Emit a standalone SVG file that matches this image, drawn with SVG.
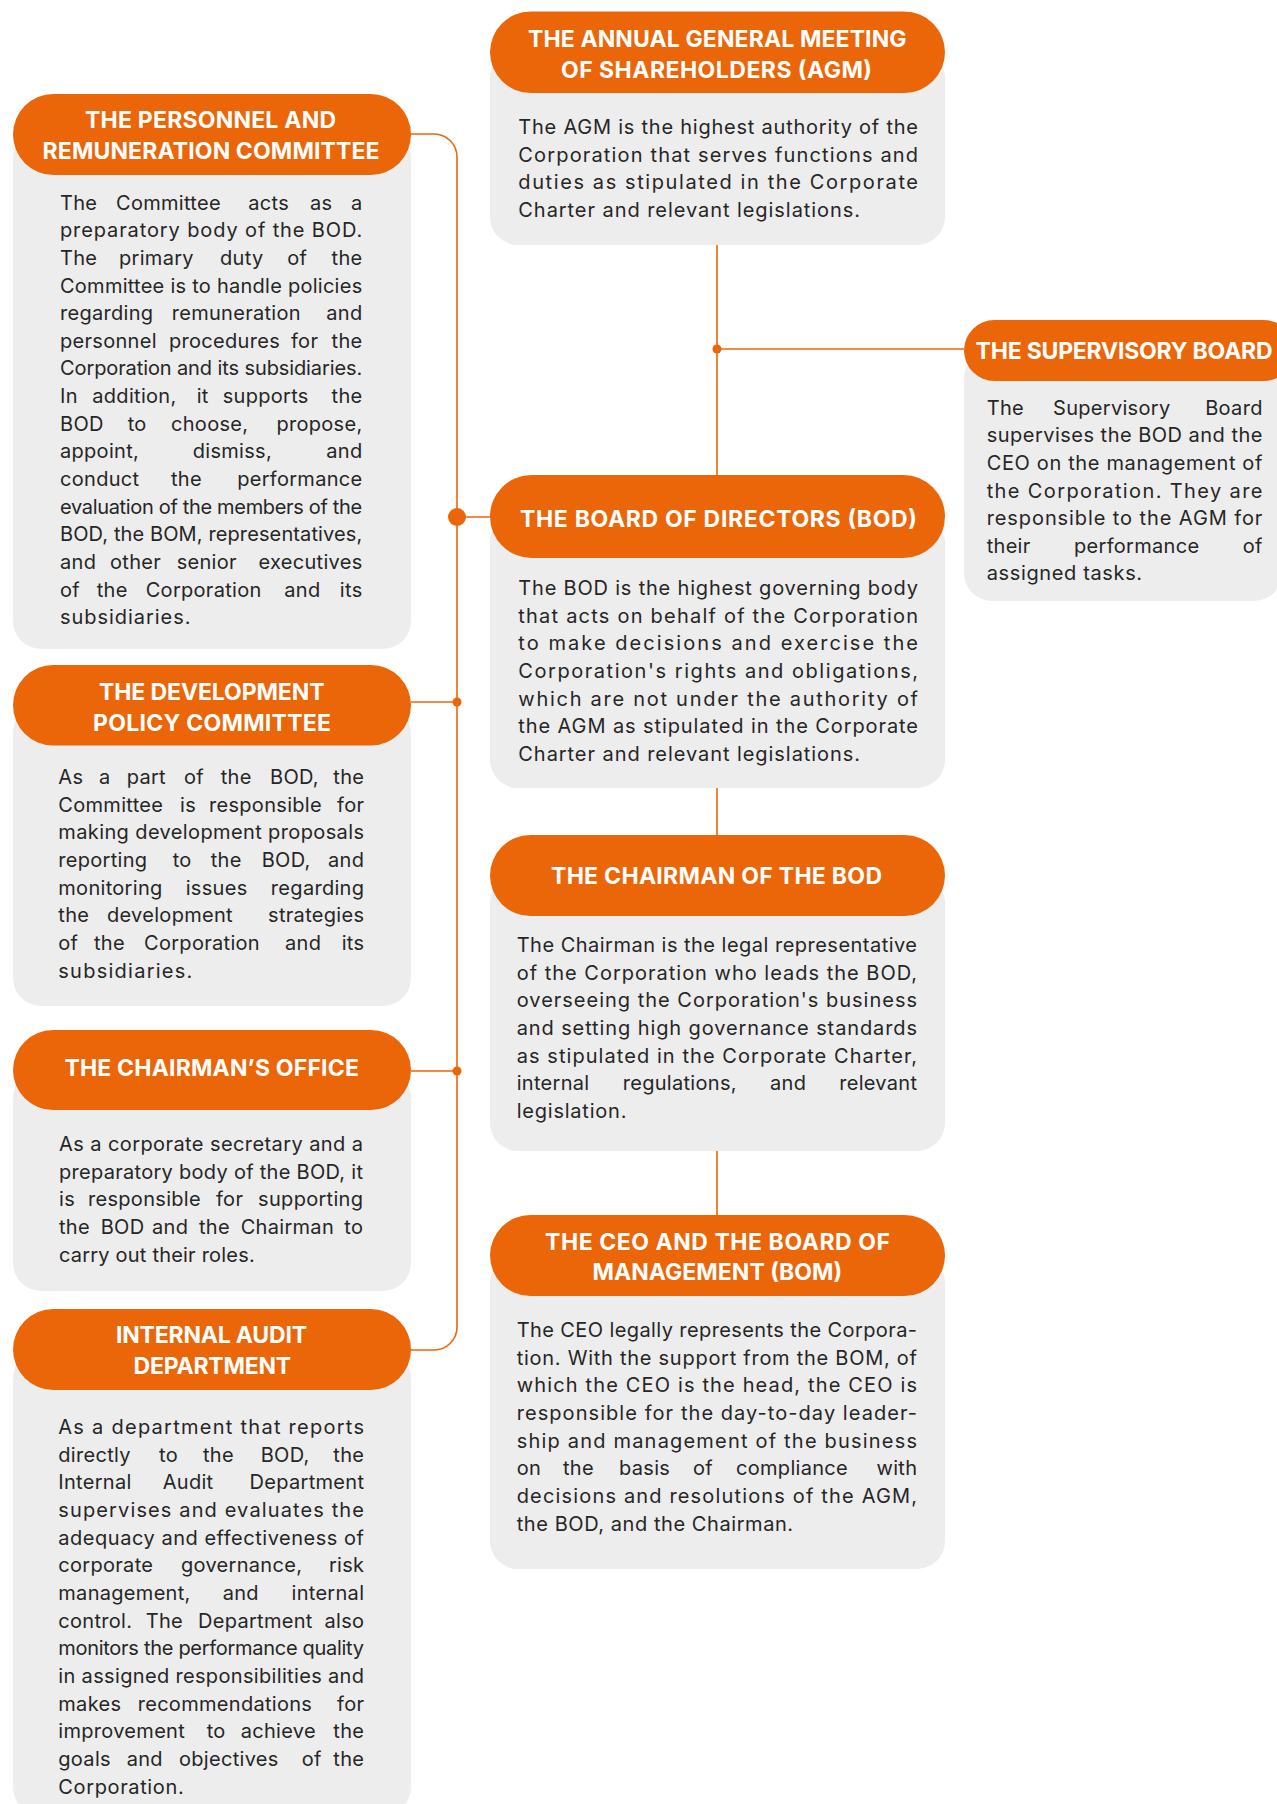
<svg xmlns="http://www.w3.org/2000/svg" width="1277" height="1804" viewBox="0 0 1277 1804">
<style>
.pill{fill:#EB6608}
.box{fill:#EDEDED}
.t{font-family:Inter,'Open Sans','Liberation Sans',sans-serif;font-weight:700;font-size:23px;fill:#FFFFFF}
.b{font-family:Inter,'Noto Sans','Liberation Sans',sans-serif;font-size:20px;letter-spacing:0.3px;fill:#262626}
.e{text-anchor:end}
.ln{stroke:#EB6608;stroke-width:1.6;fill:none}
.dot{fill:#EB6608}
</style>
<rect width="1277" height="1804" fill="#FFFFFF"/>

<g id="connectors">
<line class="ln" x1="717" y1="244" x2="717" y2="475"/>
<line class="ln" x1="717" y1="349" x2="964" y2="349"/>
<circle class="dot" cx="717" cy="349" r="4.5"/>
<line class="ln" x1="717" y1="787" x2="717" y2="835"/>
<line class="ln" x1="717" y1="1150" x2="717" y2="1215"/>
<path class="ln" d="M411,134 H434 A23,23 0 0 1 457,157 V1327 A23,23 0 0 1 434,1350 H411"/>
<line class="ln" x1="457" y1="517" x2="490" y2="517"/>
<circle class="dot" cx="457" cy="517" r="9"/>
<line class="ln" x1="411" y1="702" x2="457" y2="702"/>
<circle class="dot" cx="457" cy="702" r="4.5"/>
<line class="ln" x1="411" y1="1071" x2="457" y2="1071"/>
<circle class="dot" cx="457" cy="1071" r="4.5"/>
</g>

<g id="agm">
<rect class="box" x="490" y="50" width="455" height="195" rx="28"/>
<rect class="pill" x="490" y="11.5" width="455" height="81.5" rx="40.75"/>
<text class="t" x="528" y="46.5" textLength="378.6" lengthAdjust="spacing">THE ANNUAL GENERAL MEETING</text>
<text class="t" x="561" y="77.5" textLength="311" lengthAdjust="spacing">OF SHAREHOLDERS (AGM)</text>
<text class="b" x="518.3" y="134" textLength="400" lengthAdjust="spacing">The AGM is the highest authority of the</text>
<text class="b" x="518.3" y="161.7" textLength="400" lengthAdjust="spacing">Corporation that serves functions and</text>
<text class="b" x="518.3" y="189.3" textLength="400" lengthAdjust="spacing">duties as stipulated in the Corporate</text>
<text class="b" x="518.3" y="217" textLength="342" lengthAdjust="spacing">Charter and relevant legislations.</text>
</g>

<g id="supervisory">
<rect class="box" x="964" y="350" width="318" height="251" rx="28"/>
<rect class="pill" x="964" y="320" width="330" height="61" rx="30.5"/>
<text class="t" x="975.6" y="359" textLength="297" lengthAdjust="spacing">THE SUPERVISORY BOARD</text>
<text class="b" y="414.5"><tspan x="986.7">The</tspan><tspan x="1053">Supervisory</tspan></text>
<text class="b e" x="1262.7" y="414.5">Board</text>
<text class="b" x="986.7" y="442.2" textLength="276" lengthAdjust="spacing">supervises the BOD and the</text>
<text class="b" x="986.7" y="469.8" textLength="276" lengthAdjust="spacing">CEO on the management of</text>
<text class="b" x="986.7" y="497.5" textLength="276" lengthAdjust="spacing">the Corporation. They are</text>
<text class="b" x="986.7" y="525.1" textLength="276" lengthAdjust="spacing">responsible to the AGM for</text>
<text class="b" y="552.8"><tspan x="986.7">their</tspan><tspan x="1074">performance</tspan></text>
<text class="b e" x="1262.7" y="552.8">of</text>
<text class="b" x="986.7" y="580.4" textLength="155.7" lengthAdjust="spacing">assigned tasks.</text>
</g>

<g id="bod">
<rect class="box" x="490" y="515" width="455" height="273" rx="28"/>
<rect class="pill" x="490" y="475" width="455" height="83" rx="41.5"/>
<text class="t" x="520" y="527" textLength="397" lengthAdjust="spacing">THE BOARD OF DIRECTORS (BOD)</text>
<text class="b" x="518.3" y="595" textLength="400" lengthAdjust="spacing">The BOD is the highest governing body</text>
<text class="b" x="518.3" y="622.7" textLength="400" lengthAdjust="spacing">that acts on behalf of the Corporation</text>
<text class="b" x="518.3" y="650.3" textLength="400" lengthAdjust="spacing">to make decisions and exercise the</text>
<text class="b" x="518.3" y="678" textLength="400" lengthAdjust="spacing">Corporation's rights and obligations,</text>
<text class="b" x="518.3" y="705.6" textLength="400" lengthAdjust="spacing">which are not under the authority of</text>
<text class="b" x="518.3" y="733.3" textLength="400" lengthAdjust="spacing">the AGM as stipulated in the Corporate</text>
<text class="b" x="518.3" y="760.9" textLength="342" lengthAdjust="spacing">Charter and relevant legislations.</text>
</g>

<g id="chairman-bod">
<rect class="box" x="490" y="875" width="455" height="276" rx="28"/>
<rect class="pill" x="490" y="835" width="455" height="81" rx="40.5"/>
<text class="t" x="551" y="884" textLength="331" lengthAdjust="spacing">THE CHAIRMAN OF THE BOD</text>
<text class="b" x="516.7" y="952" textLength="400.6" lengthAdjust="spacing">The Chairman is the legal representative</text>
<text class="b" x="516.7" y="979.7" textLength="400.6" lengthAdjust="spacing">of the Corporation who leads the BOD,</text>
<text class="b" x="516.7" y="1007.3" textLength="400.6" lengthAdjust="spacing">overseeing the Corporation's business</text>
<text class="b" x="516.7" y="1035" textLength="400.6" lengthAdjust="spacing">and setting high governance standards</text>
<text class="b" x="516.7" y="1062.6" textLength="400.6" lengthAdjust="spacing">as stipulated in the Corporate Charter,</text>
<text class="b" y="1090.3"><tspan x="516.7">internal</tspan><tspan x="622.7">regulations,</tspan><tspan x="770">and</tspan></text>
<text class="b e" x="917.3" y="1090.3">relevant</text>
<text class="b" x="516.7" y="1117.9" textLength="110" lengthAdjust="spacing">legislation.</text>
</g>

<g id="ceo-bom">
<rect class="box" x="490" y="1255" width="455" height="314" rx="28"/>
<rect class="pill" x="490" y="1215" width="455" height="81" rx="40.5"/>
<text class="t" x="545" y="1249.5" textLength="345" lengthAdjust="spacing">THE CEO AND THE BOARD OF</text>
<text class="t" x="592.5" y="1279.5" textLength="249.7" lengthAdjust="spacing">MANAGEMENT (BOM)</text>
<text class="b" x="516.7" y="1337" textLength="400.6" lengthAdjust="spacing">The CEO legally represents the Corpora-</text>
<text class="b" x="516.7" y="1364.7" textLength="400.6" lengthAdjust="spacing">tion. With the support from the BOM, of</text>
<text class="b" x="516.7" y="1392.3" textLength="400.6" lengthAdjust="spacing">which the CEO is the head, the CEO is</text>
<text class="b" x="516.7" y="1420" textLength="400.6" lengthAdjust="spacing">responsible for the day-to-day leader-</text>
<text class="b" x="516.7" y="1447.6" textLength="400.6" lengthAdjust="spacing">ship and management of the business</text>
<text class="b" y="1475.3"><tspan x="516.7">on</tspan><tspan x="563">the</tspan><tspan x="619">basis</tspan><tspan x="693">of</tspan><tspan x="736">compliance</tspan></text>
<text class="b e" x="917.3" y="1475.3">with</text>
<text class="b" x="516.7" y="1502.9" textLength="400.6" lengthAdjust="spacing">decisions and resolutions of the AGM,</text>
<text class="b" x="516.7" y="1530.6" textLength="276.7" lengthAdjust="spacing">the BOD, and the Chairman.</text>
</g>

<g id="personnel">
<rect class="box" x="13" y="130" width="398" height="519" rx="28"/>
<rect class="pill" x="13" y="94" width="398" height="81" rx="40.5"/>
<text class="t" x="85" y="128" textLength="251" lengthAdjust="spacing">THE PERSONNEL AND</text>
<text class="t" x="42.6" y="159" textLength="337" lengthAdjust="spacing">REMUNERATION COMMITTEE</text>
<text class="b" y="209.5"><tspan x="60">The</tspan><tspan x="116">Committee</tspan><tspan x="248.3">acts</tspan><tspan x="310">as</tspan></text>
<text class="b e" x="362.5" y="209.5">a</text>
<text class="b" x="60" y="237.2" textLength="302.5" lengthAdjust="spacing">preparatory body of the BOD.</text>
<text class="b" y="264.8"><tspan x="60">The</tspan><tspan x="119">primary</tspan><tspan x="220">duty</tspan><tspan x="287.3">of</tspan></text>
<text class="b e" x="362.5" y="264.8">the</text>
<text class="b" x="60" y="292.5" textLength="302.5" lengthAdjust="spacing">Committee is to handle policies</text>
<text class="b" y="320.1"><tspan x="60">regarding</tspan><tspan x="171.7">remuneration</tspan></text>
<text class="b e" x="362.5" y="320.1">and</text>
<text class="b" y="347.8"><tspan x="60">personnel</tspan><tspan x="169">procedures</tspan><tspan x="291">for</tspan></text>
<text class="b e" x="362.5" y="347.8">the</text>
<text class="b" x="60" y="375.4" textLength="302.5" lengthAdjust="spacing">Corporation and its subsidiaries.</text>
<text class="b" y="403.1"><tspan x="60">In</tspan><tspan x="92.3">addition,</tspan><tspan x="196.7">it</tspan><tspan x="222.7">supports</tspan></text>
<text class="b e" x="362.5" y="403.1">the</text>
<text class="b" y="430.7"><tspan x="60">BOD</tspan><tspan x="127.7">to</tspan><tspan x="171">choose,</tspan></text>
<text class="b e" x="362.5" y="430.7">propose,</text>
<text class="b" y="458.4"><tspan x="60">appoint,</tspan><tspan x="192.7">dismiss,</tspan></text>
<text class="b e" x="362.5" y="458.4">and</text>
<text class="b" y="486"><tspan x="60">conduct</tspan><tspan x="171">the</tspan></text>
<text class="b e" x="362.5" y="486">performance</text>
<text class="b" x="60" y="513.7" textLength="302.5" lengthAdjust="spacing">evaluation of the members of the</text>
<text class="b" x="60" y="541.3" textLength="302.5" lengthAdjust="spacing">BOD, the BOM, representatives,</text>
<text class="b" y="569"><tspan x="60">and</tspan><tspan x="110">other</tspan><tspan x="176.7">senior</tspan></text>
<text class="b e" x="362.5" y="569">executives</text>
<text class="b" y="596.6"><tspan x="60">of</tspan><tspan x="96.7">the</tspan><tspan x="145.7">Corporation</tspan><tspan x="284.3">and</tspan></text>
<text class="b e" x="362.5" y="596.6">its</text>
<text class="b" x="60" y="624.3" textLength="130.7" lengthAdjust="spacing">subsidiaries.</text>
</g>

<g id="development">
<rect class="box" x="13" y="705" width="398" height="301" rx="28"/>
<rect class="pill" x="13" y="665" width="398" height="80.5" rx="40.25"/>
<text class="t" x="99" y="700" textLength="225.5" lengthAdjust="spacing">THE DEVELOPMENT</text>
<text class="t" x="93" y="731" textLength="238" lengthAdjust="spacing">POLICY COMMITTEE</text>
<text class="b" y="784"><tspan x="58.3">As</tspan><tspan x="99">a</tspan><tspan x="126.7">part</tspan><tspan x="184">of</tspan><tspan x="220.7">the</tspan><tspan x="270">BOD,</tspan></text>
<text class="b e" x="364.3" y="784">the</text>
<text class="b" y="811.7"><tspan x="58.3">Committee</tspan><tspan x="180">is</tspan><tspan x="209">responsible</tspan></text>
<text class="b e" x="364.3" y="811.7">for</text>
<text class="b" x="58.3" y="839.3" textLength="306" lengthAdjust="spacing">making development proposals</text>
<text class="b" y="867"><tspan x="58.3">reporting</tspan><tspan x="172.7">to</tspan><tspan x="210.7">the</tspan><tspan x="261.7">BOD,</tspan></text>
<text class="b e" x="364.3" y="867">and</text>
<text class="b" y="894.6"><tspan x="58.3">monitoring</tspan><tspan x="185.7">issues</tspan></text>
<text class="b e" x="364.3" y="894.6">regarding</text>
<text class="b" y="922.3"><tspan x="58.3">the</tspan><tspan x="107">development</tspan></text>
<text class="b e" x="364.3" y="922.3">strategies</text>
<text class="b" y="949.9"><tspan x="58.3">of</tspan><tspan x="94">the</tspan><tspan x="144">Corporation</tspan><tspan x="285">and</tspan></text>
<text class="b e" x="364.3" y="949.9">its</text>
<text class="b" x="58.3" y="977.6" textLength="134.3" lengthAdjust="spacing">subsidiaries.</text>
</g>

<g id="chairmans-office">
<rect class="box" x="13" y="1070" width="398" height="221" rx="28"/>
<rect class="pill" x="13" y="1030" width="398" height="80" rx="40"/>
<text class="t" x="64.4" y="1076" textLength="294.5" lengthAdjust="spacing">THE CHAIRMAN’S OFFICE</text>
<text class="b" x="59" y="1151" textLength="304.3" lengthAdjust="spacing">As a corporate secretary and a</text>
<text class="b" x="59" y="1178.7" textLength="304.3" lengthAdjust="spacing">preparatory body of the BOD, it</text>
<text class="b" y="1206.3"><tspan x="59">is</tspan><tspan x="88">responsible</tspan><tspan x="216">for</tspan></text>
<text class="b e" x="363.3" y="1206.3">supporting</text>
<text class="b" y="1234"><tspan x="59">the</tspan><tspan x="100.7">BOD</tspan><tspan x="152">and</tspan><tspan x="199">the</tspan><tspan x="240.7">Chairman</tspan></text>
<text class="b e" x="363.3" y="1234">to</text>
<text class="b" x="59" y="1261.6" textLength="196" lengthAdjust="spacing">carry out their roles.</text>
</g>

<g id="internal-audit">
<rect class="box" x="13" y="1350" width="398" height="465" rx="28"/>
<rect class="pill" x="13" y="1309" width="398" height="81" rx="40.5"/>
<text class="t" x="116" y="1343" textLength="191" lengthAdjust="spacing">INTERNAL AUDIT</text>
<text class="t" x="133.5" y="1374" textLength="157.6" lengthAdjust="spacing">DEPARTMENT</text>
<text class="b" x="58.3" y="1434" textLength="306" lengthAdjust="spacing">As a department that reports</text>
<text class="b" y="1461.7"><tspan x="58.3">directly</tspan><tspan x="159">to</tspan><tspan x="203">the</tspan><tspan x="260.7">BOD,</tspan></text>
<text class="b e" x="364.3" y="1461.7">the</text>
<text class="b" y="1489.3"><tspan x="58.3">Internal</tspan><tspan x="162.7">Audit</tspan></text>
<text class="b e" x="364.3" y="1489.3">Department</text>
<text class="b" x="58.3" y="1517" textLength="306" lengthAdjust="spacing">supervises and evaluates the</text>
<text class="b" x="58.3" y="1544.6" textLength="306" lengthAdjust="spacing">adequacy and effectiveness of</text>
<text class="b" y="1572.3"><tspan x="58.3">corporate</tspan><tspan x="181">governance,</tspan></text>
<text class="b e" x="364.3" y="1572.3">risk</text>
<text class="b" y="1599.9"><tspan x="58.3">management,</tspan><tspan x="222.7">and</tspan></text>
<text class="b e" x="364.3" y="1599.9">internal</text>
<text class="b" y="1627.6"><tspan x="58.3">control.</tspan><tspan x="145.7">The</tspan><tspan x="198">Department</tspan></text>
<text class="b e" x="364.3" y="1627.6">also</text>
<text class="b" x="58.3" y="1655.2" textLength="306" lengthAdjust="spacing">monitors the performance quality</text>
<text class="b" x="58.3" y="1682.9" textLength="306" lengthAdjust="spacing">in assigned responsibilities and</text>
<text class="b" y="1710.5"><tspan x="58.3">makes</tspan><tspan x="137.7">recommendations</tspan></text>
<text class="b e" x="364.3" y="1710.5">for</text>
<text class="b" y="1738.2"><tspan x="58.3">improvement</tspan><tspan x="206.7">to</tspan><tspan x="240.7">achieve</tspan></text>
<text class="b e" x="364.3" y="1738.2">the</text>
<text class="b" y="1765.8"><tspan x="58.3">goals</tspan><tspan x="126.7">and</tspan><tspan x="179">objectives</tspan><tspan x="301.7">of</tspan></text>
<text class="b e" x="364.3" y="1765.8">the</text>
<text class="b" x="58.3" y="1793.5" textLength="125.7" lengthAdjust="spacing">Corporation.</text>
</g>
</svg>
